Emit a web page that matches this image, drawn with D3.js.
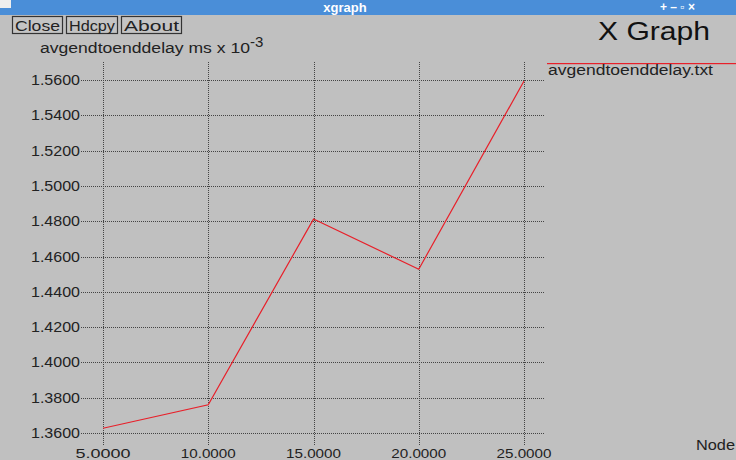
<!DOCTYPE html>
<html><head><meta charset="utf-8">
<script src="https://cdn.jsdelivr.net/npm/d3@7"></script>
<style>html,body{margin:0;padding:0;background:#c0c0c0;overflow:hidden}svg{display:block}</style>
</head><body>
<script>
const xValues = [5, 10, 15, 20, 25];
const delayValues = [1.3627, 1.3760, 1.4812, 1.4528, 1.5594];
const yTicks = [1.36, 1.38, 1.40, 1.42, 1.44, 1.46, 1.48, 1.50, 1.52, 1.54, 1.56];
const xTicks = [5, 10, 15, 20, 25];
const buttons = ["Close", "Hdcpy", "About"];
const seriesName = "avgendtoenddelay.txt";

const W = 736, H = 460;
const svg = d3.select("body").append("svg").attr("width", W).attr("height", H);
const font = "'Liberation Sans', Arial, sans-serif";

svg.append("rect").attr("width", W).attr("height", H).attr("fill", "#c0c0c0");

// title bar
svg.append("rect").attr("x", 0).attr("y", 0).attr("width", W).attr("height", 15).attr("fill", "#4a8ed8");
svg.append("rect").attr("x", 0).attr("y", 0).attr("width", 11).attr("height", 8).attr("fill", "#eeeeee");
svg.append("text").attr("x", 345).attr("y", 12).attr("text-anchor", "middle")
  .attr("font-family", font).attr("font-weight", "bold").attr("font-size", 13).attr("fill", "#ffffff").text("xgraph");
svg.append("text").attr("x", 660).attr("y", 11).attr("font-family", font).attr("font-size", 12)
  .attr("fill", "#ffffff").attr("font-weight", "bold").text("+  –  ▫  ×");

// buttons
const bx = [12, 66, 121], bw = [50, 51, 60];
buttons.forEach((b, i) => {
  svg.append("rect").attr("x", bx[i] + 0.5).attr("y", 16.5).attr("width", bw[i]).attr("height", 17)
    .attr("fill", "#c4c4c4").attr("stroke", "#333").attr("stroke-width", 1.2);
  svg.append("text").attr("x", bx[i] + 3).attr("y", 30.5)
    .attr("font-family", font).attr("font-size", 15).attr("fill", "#222")
    .attr("textLength", bw[i] - 5).attr("lengthAdjust", "spacingAndGlyphs").text(b);
});

// X Graph title
svg.append("text").attr("x", 598).attr("y", 40).attr("font-family", font).attr("font-size", 25)
  .attr("fill", "#111").attr("textLength", 112).attr("lengthAdjust", "spacingAndGlyphs").text("X Graph");

// y axis label
const yl = svg.append("text").attr("x", 40).attr("y", 53).attr("font-family", font).attr("font-size", 14).attr("fill", "#222");
yl.append("tspan").attr("textLength", 210).attr("lengthAdjust", "spacingAndGlyphs").text("avgendtoenddelay ms x 10");
yl.append("tspan").attr("dy", -6).attr("font-size", 15).text("-3");

const x = d3.scaleLinear().domain([5, 25]).range([103, 524]);
const y = d3.scaleLinear().domain([1.36, 1.56]).range([433, 80]);

const grid = svg.append("g");
grid.selectAll("line.h").data(yTicks).join("line").attr("class", "h")
  .attr("x1", 81).attr("x2", 545).attr("y1", d => Math.round(y(d)) + 0.5).attr("y2", d => Math.round(y(d)) + 0.5)
  .attr("stroke", "#444").attr("stroke-width", 1).attr("stroke-dasharray", "1,1");
grid.selectAll("line.v").data(xTicks).join("line").attr("class", "v")
  .attr("y1", 62).attr("y2", 446).attr("x1", d => Math.round(x(d)) + 0.5).attr("x2", d => Math.round(x(d)) + 0.5)
  .attr("stroke", "#444").attr("stroke-width", 1).attr("stroke-dasharray", "1,1");

svg.selectAll("text.yt").data(yTicks).join("text").attr("class", "yt")
  .attr("x", 80).attr("y", d => y(d) + 5).attr("text-anchor", "end")
  .attr("font-family", font).attr("font-size", 14).attr("fill", "#222")
  .attr("textLength", 49).attr("lengthAdjust", "spacingAndGlyphs")
  .text(d => d.toFixed(4));

svg.selectAll("text.xt").data(xTicks).join("text").attr("class", "xt")
  .attr("x", d => x(d)).attr("y", 458).attr("text-anchor", "middle")
  .attr("font-family", font).attr("font-size", 13).attr("fill", "#222")
  .attr("textLength", 55).attr("lengthAdjust", "spacingAndGlyphs")
  .text(d => d.toFixed(4));

svg.append("text").attr("x", 696).attr("y", 450).attr("font-family", font).attr("font-size", 14)
  .attr("fill", "#222").attr("textLength", 39).attr("lengthAdjust", "spacingAndGlyphs").text("Node");

// series line
const pts = xValues.map((v, i) => [v, delayValues[i]]);
svg.append("path").datum(pts).attr("fill", "none").attr("stroke", "#e8202a").attr("stroke-width", 1.2)
  .attr("d", d3.line().x(d => x(d[0])).y(d => y(d[1])));

// legend
svg.append("rect").attr("x", 547).attr("y", 63).attr("width", 189).attr("height", 1.2).attr("fill", "#e8202a");
svg.append("text").attr("x", 548).attr("y", 75).attr("font-family", font).attr("font-size", 14)
  .attr("fill", "#222").attr("textLength", 165).attr("lengthAdjust", "spacingAndGlyphs").text(seriesName);
</script>
</body></html>
